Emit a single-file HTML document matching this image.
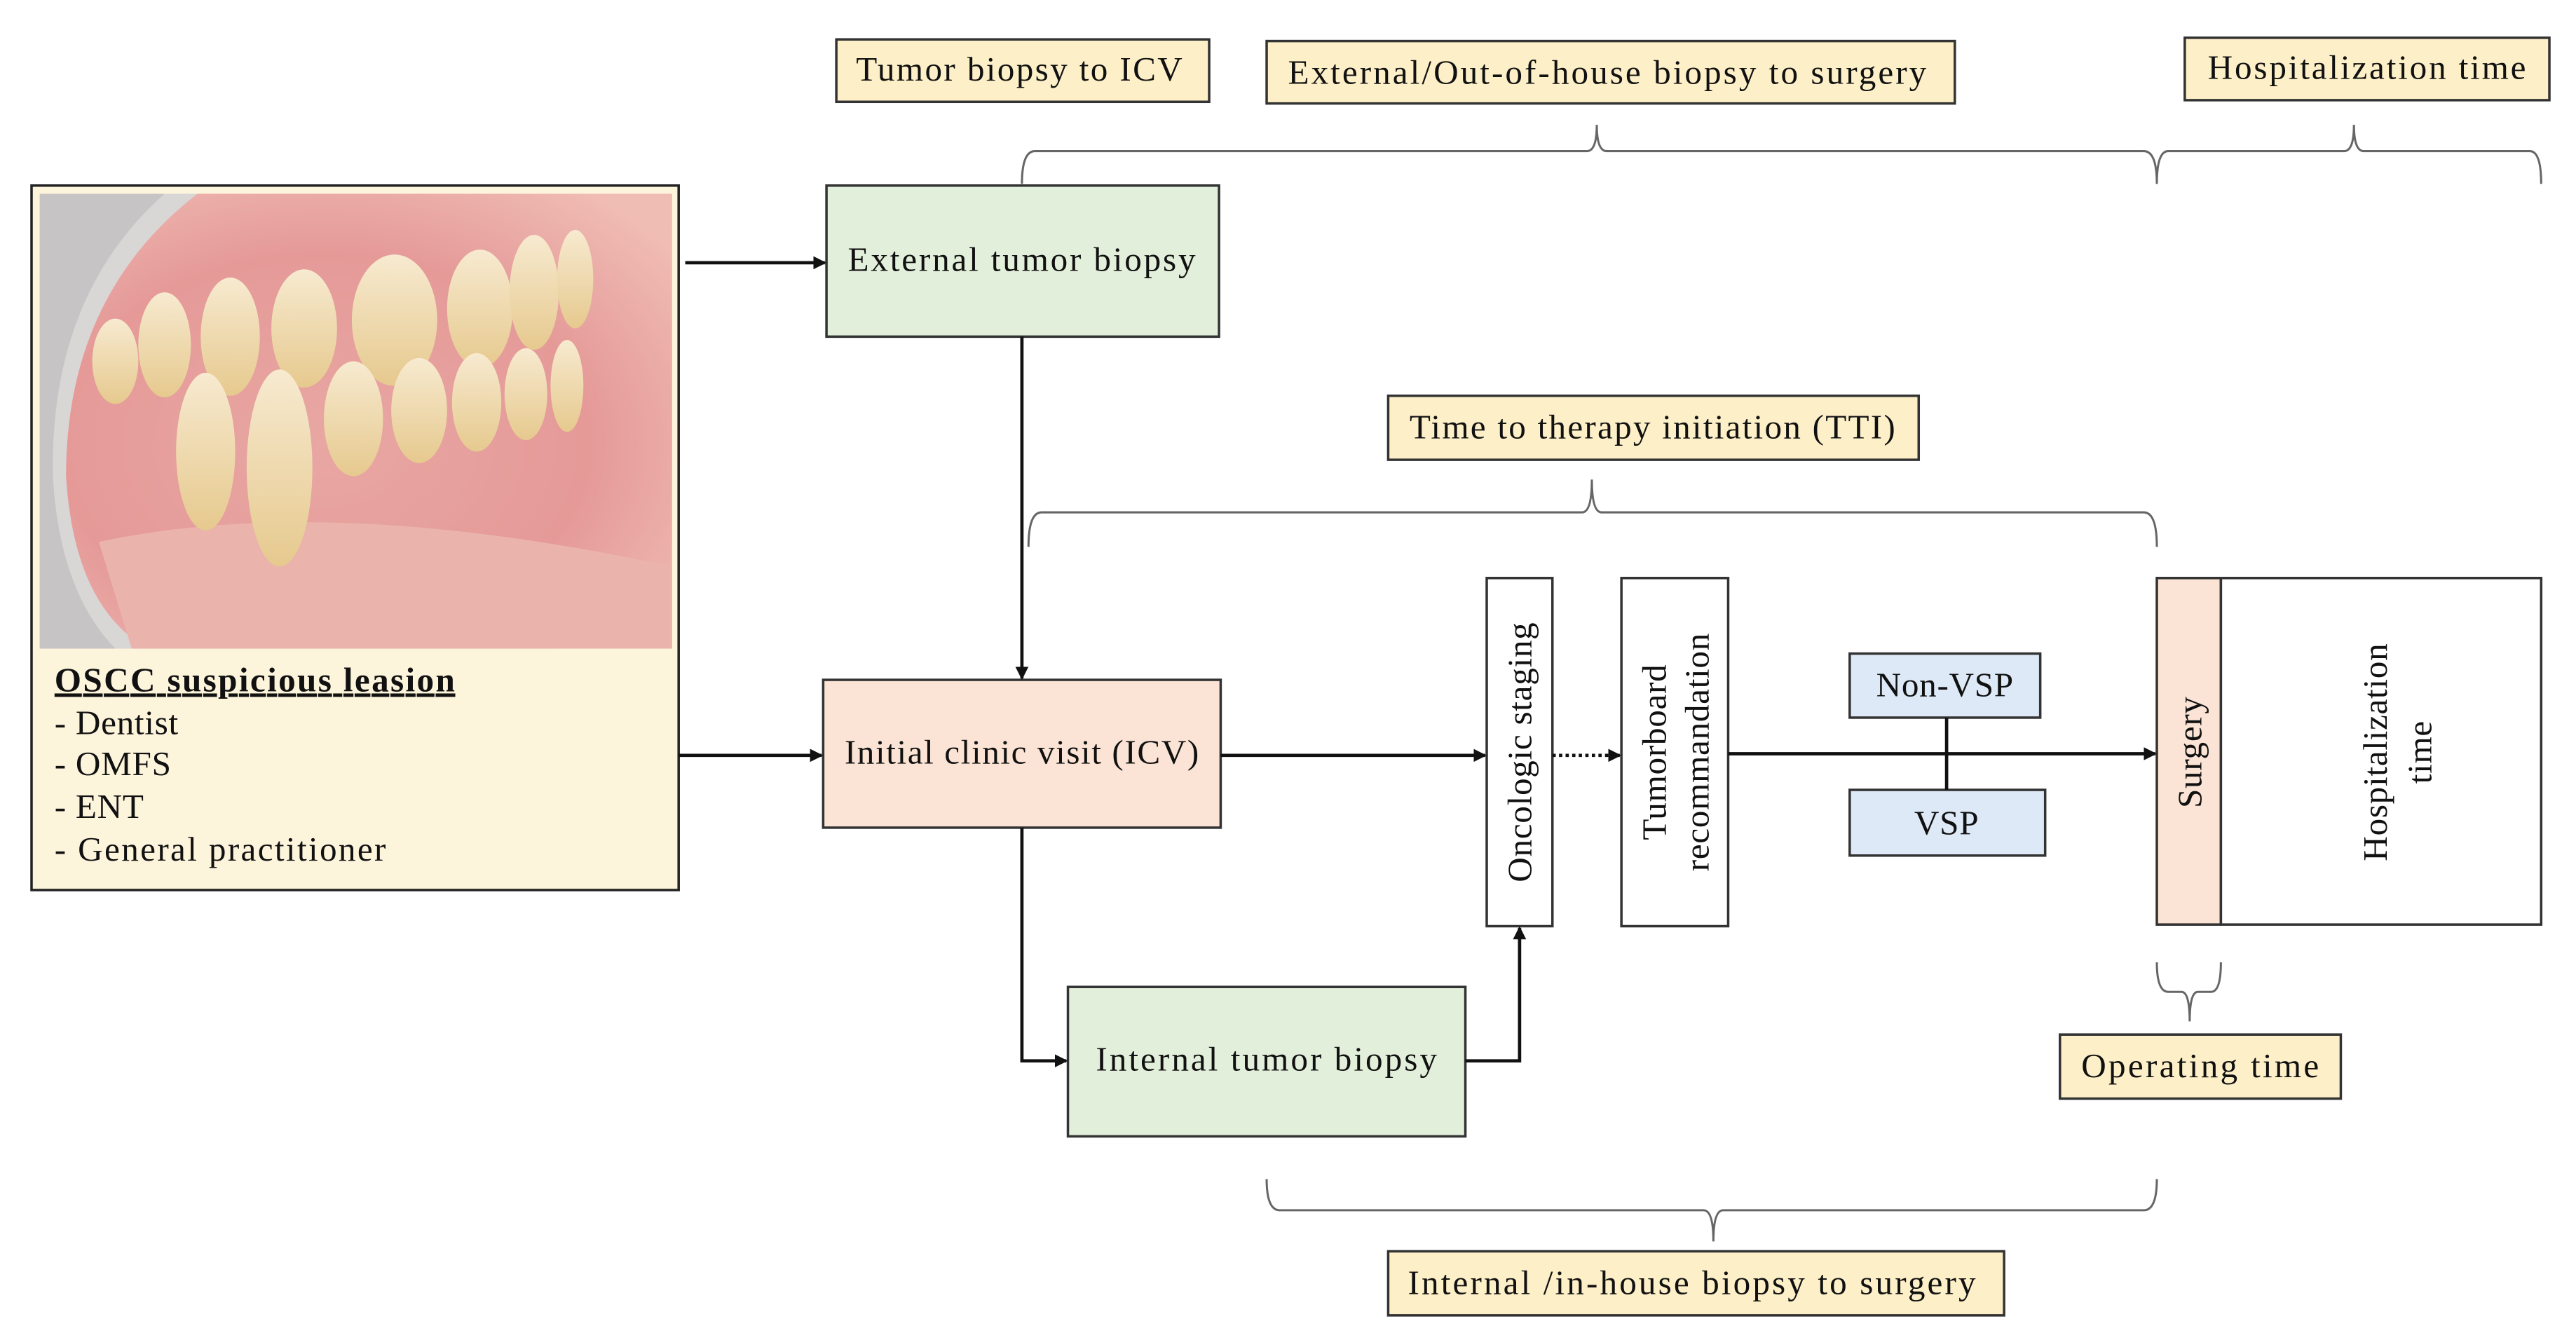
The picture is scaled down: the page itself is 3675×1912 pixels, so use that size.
<!DOCTYPE html>
<html><head><meta charset="utf-8"><style>
html,body{margin:0;padding:0;background:#fff}
svg{display:block}
text{font-family:"Liberation Serif",serif;fill:#111;letter-spacing:0.3px}
</style></head><body>
<svg width="3675" height="1912" viewBox="0 0 1568 816" xmlns="http://www.w3.org/2000/svg">
<defs>
<marker id="ah" markerWidth="8" markerHeight="8" refX="7" refY="4" orient="auto" markerUnits="userSpaceOnUse"><path d="M0,0 L8,4 L0,8 Z" fill="#111"/></marker>
<radialGradient id="gum" cx="0.45" cy="0.55" r="0.7"><stop offset="0" stop-color="#e8a7a3"/><stop offset="0.6" stop-color="#e59a98"/><stop offset="1" stop-color="#f0bdb5"/></radialGradient>
<linearGradient id="tooth" x1="0" y1="0" x2="0" y2="1"><stop offset="0" stop-color="#f7ead0"/><stop offset="1" stop-color="#e6c98e"/></linearGradient>
</defs>
<rect x="19" y="113" width="394" height="429" fill="#fdf4dc" stroke="#222" stroke-width="1.5"/>
<rect x="24" y="118" width="385" height="277" fill="url(#gum)"/>
<path d="M24,118 L120,118 Q40,180 40,290 Q45,370 90,395 L24,395 Z" fill="#d9d6d6"/>
<path d="M24,118 L100,118 Q30,180 32,290 Q36,360 70,395 L24,395 Z" fill="#c7c4c6"/>
<path d="M60,330 Q200,300 409,345 L409,395 L80,395 Z" fill="#eab4ad"/>
<g fill="url(#tooth)">
<ellipse cx="70" cy="220" rx="14" ry="26"/>
<ellipse cx="100" cy="210" rx="16" ry="32"/>
<ellipse cx="140" cy="205" rx="18" ry="36"/>
<ellipse cx="185" cy="200" rx="20" ry="36"/>
<ellipse cx="240" cy="195" rx="26" ry="40"/>
<ellipse cx="292" cy="188" rx="20" ry="36"/>
<ellipse cx="325" cy="178" rx="15" ry="35"/>
<ellipse cx="350" cy="170" rx="11" ry="30"/>
<ellipse cx="125" cy="275" rx="18" ry="48"/>
<ellipse cx="170" cy="285" rx="20" ry="60"/>
<ellipse cx="215" cy="255" rx="18" ry="35"/>
<ellipse cx="255" cy="250" rx="17" ry="32"/>
<ellipse cx="290" cy="245" rx="15" ry="30"/>
<ellipse cx="320" cy="240" rx="13" ry="28"/>
<ellipse cx="345" cy="235" rx="10" ry="28"/>
</g>
<text x="33" y="421" font-size="21" font-weight="bold" text-decoration="underline" textLength="244">OSCC suspicious leasion</text>
<text x="33" y="447" font-size="21">- Dentist</text>
<text x="33" y="472" font-size="21">- OMFS</text>
<text x="33" y="498" font-size="21">- ENT</text>
<text x="33" y="524" font-size="21" textLength="202">- General practitioner</text>

<g fill="#fdf0c8" stroke="#333" stroke-width="1.5">
<rect x="509" y="24" width="227" height="38"/>
<rect x="771" y="25" width="419" height="38"/>
<rect x="1330" y="23" width="222" height="38"/>
<rect x="845" y="241" width="323" height="39"/>
<rect x="1254" y="630" width="171" height="39"/>
<rect x="845" y="762" width="375" height="39"/>
</g>
<g font-size="21">
<text x="521" y="49" textLength="199">Tumor biopsy to ICV</text>
<text x="784" y="51" textLength="389">External/Out-of-house biopsy to surgery</text>
<text x="1344" y="48" textLength="194">Hospitalization time</text>
<text x="858" y="267" textLength="296">Time to therapy initiation (TTI)</text>
<text x="1267" y="656" textLength="145">Operating time</text>
<text x="857" y="788" textLength="346">Internal /in-house biopsy to surgery</text>
</g>

<g fill="none" stroke="#666" stroke-width="1.3">
<path d="M622,112 Q622,92 630,92 L966,92 Q972,92 972,76 Q972,92 978,92 L1305,92 Q1313,92 1313,112"/>
<path d="M1313,112 Q1313,92 1320,92 L1427,92 Q1433,92 1433,76 Q1433,92 1439,92 L1540,92 Q1547,92 1547,112"/>
<path d="M626,333 Q626,312 634,312 L963,312 Q969,312 969,292 Q969,312 975,312 L1305,312 Q1313,312 1313,333"/>
<path d="M771,718 Q771,737 779,737 L1037,737 Q1043,737 1043,756 Q1043,737 1049,737 L1305,737 Q1313,737 1313,718"/>
<path d="M1313,586 Q1313,604 1320,604 L1328,604 Q1333,604 1333,622 Q1333,604 1338,604 L1346,604 Q1352,604 1352,586"/>
</g>

<rect x="503" y="113" width="239" height="92" fill="#e2efda" stroke="#333" stroke-width="1.5"/>
<text x="516" y="165" font-size="21" textLength="212">External tumor biopsy</text>
<rect x="501" y="414" width="242" height="90" fill="#fbe4d5" stroke="#333" stroke-width="1.5"/>
<text x="514" y="465" font-size="21" textLength="216">Initial clinic visit (ICV)</text>
<rect x="650" y="601" width="242" height="91" fill="#e2efda" stroke="#333" stroke-width="1.5"/>
<text x="667" y="652" font-size="21" textLength="208">Internal tumor biopsy</text>
<rect x="905" y="352" width="40" height="212" fill="#fff" stroke="#333" stroke-width="1.5"/>
<text transform="translate(932,458) rotate(-90)" font-size="21" text-anchor="middle">Oncologic staging</text>
<rect x="987" y="352" width="65" height="212" fill="#fff" stroke="#333" stroke-width="1.5"/>
<text transform="translate(1014,458) rotate(-90)" font-size="21" text-anchor="middle">Tumorboard</text>
<text transform="translate(1040,458) rotate(-90)" font-size="21" text-anchor="middle">recommandation</text>
<rect x="1126" y="398" width="116" height="39" fill="#dde9f6" stroke="#333" stroke-width="1.5"/>
<text x="1184" y="424" font-size="21" text-anchor="middle">Non-VSP</text>
<rect x="1126" y="481" width="119" height="40" fill="#dde9f6" stroke="#333" stroke-width="1.5"/>
<text x="1185" y="508" font-size="21" text-anchor="middle">VSP</text>
<line x1="1185" y1="437" x2="1185" y2="481" stroke="#111" stroke-width="2"/>
<rect x="1313" y="352" width="39" height="211" fill="#fbe4d5" stroke="#333" stroke-width="1.5"/>
<rect x="1352" y="352" width="195" height="211" fill="#fff" stroke="#333" stroke-width="1.5"/>
<text transform="translate(1340,458) rotate(-90)" font-size="21" text-anchor="middle">Surgery</text>
<text transform="translate(1453,458) rotate(-90)" font-size="21" text-anchor="middle">Hospitalization</text>
<text transform="translate(1480,458) rotate(-90)" font-size="21" text-anchor="middle">time</text>

<g stroke="#111" stroke-width="2" fill="none">
<line x1="417" y1="160" x2="502" y2="160" marker-end="url(#ah)"/>
<line x1="622" y1="205" x2="622" y2="413" marker-end="url(#ah)"/>
<line x1="413" y1="460" x2="500" y2="460" marker-end="url(#ah)"/>
<line x1="743" y1="460" x2="904" y2="460" marker-end="url(#ah)"/>
<line x1="945" y1="460" x2="986" y2="460" stroke-dasharray="2,2" marker-end="url(#ah)"/>
<line x1="1052" y1="459" x2="1312" y2="459" marker-end="url(#ah)"/>
<polyline points="622,504 622,646 649,646" marker-end="url(#ah)"/>
<polyline points="892,646 925,646 925,565" marker-end="url(#ah)"/>
</g>
</svg>
</body></html>
